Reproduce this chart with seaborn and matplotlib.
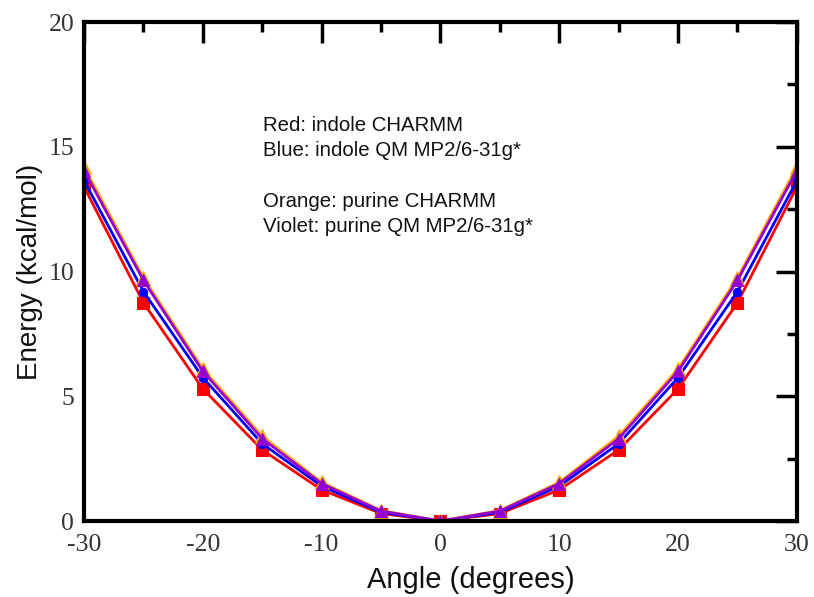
import matplotlib
matplotlib.use("Agg")
import matplotlib.pyplot as plt
from matplotlib.ticker import MultipleLocator
import seaborn as sns

angles = [-30, -25, -20, -15, -10, -5, 0, 5, 10, 15, 20, 25, 30]
indole_charmm = [13.4, 8.75, 5.3, 2.85, 1.25, 0.3, 0.0, 0.3, 1.25, 2.85, 5.3, 8.75, 13.4]
indole_qm = [13.65, 9.2, 5.75, 3.1, 1.4, 0.35, 0.0, 0.35, 1.4, 3.1, 5.75, 9.2, 13.65]
purine_charmm = [14.2, 9.75, 6.1, 3.4, 1.55, 0.42, 0.0, 0.42, 1.55, 3.4, 6.1, 9.75, 14.2]
purine_qm = [14.05, 9.65, 6.0, 3.3, 1.5, 0.4, 0.0, 0.4, 1.5, 3.3, 6.0, 9.65, 14.05]

sns.set_style("white")
plt.rcParams["axes.unicode_minus"] = False
fig = plt.figure(figsize=(8.14, 5.97), dpi=100)
ax = fig.add_axes([0.1032, 0.1273, 0.8758, 0.8357])

series = [
    (indole_charmm, "red", "s", 8),
    (indole_qm, "blue", "o", 6),
    (purine_charmm, "orange", "^", 10),
    (purine_qm, "darkviolet", "^", 9),
]
for vals, col, mk, ms in series:
    sns.lineplot(x=angles, y=vals, ax=ax, color=col, marker=mk, markersize=ms,
                 markeredgecolor=col, linewidth=2, legend=False)

ax.set_xlim(-30, 30)
ax.set_ylim(0, 20)
ax.xaxis.set_major_locator(MultipleLocator(10))
ax.xaxis.set_minor_locator(MultipleLocator(5))
ax.yaxis.set_major_locator(MultipleLocator(5))
ax.yaxis.set_minor_locator(MultipleLocator(2.5))
ax.tick_params(which="both", direction="in", top=True, right=True, width=2.5,
               color="black")
ax.tick_params(which="major", length=15)
ax.tick_params(which="minor", length=7)
ax.tick_params(axis="x", pad=9)
ax.tick_params(axis="y", pad=7)
for s in ax.spines.values():
    s.set_linewidth(3)
    s.set_color("black")

for lbl in ax.get_yticklabels() + ax.get_xticklabels():
    lbl.set_fontfamily("Liberation Serif")
    lbl.set_fontsize(18.5)
    lbl.set_color("#333333")

ax.set_xlabel("Angle (degrees)", fontsize=21, family="Liberation Sans", color="#111111")
ax.xaxis.set_label_coords(0.543, -0.09)
ax.set_ylabel("Energy (kcal/mol)", fontsize=20, family="Liberation Sans",
              color="#111111", labelpad=4)

notes = "Red: indole CHARMM\nBlue: indole QM MP2/6-31g*\n\nOrange: purine CHARMM\nViolet: purine QM MP2/6-31g*"
ax.text(0.251, 0.812, notes, transform=ax.transAxes, fontsize=14.7,
        family="Liberation Sans", color="#111111", va="top", linespacing=1.42)

fig.savefig("out.png", dpi=100)
